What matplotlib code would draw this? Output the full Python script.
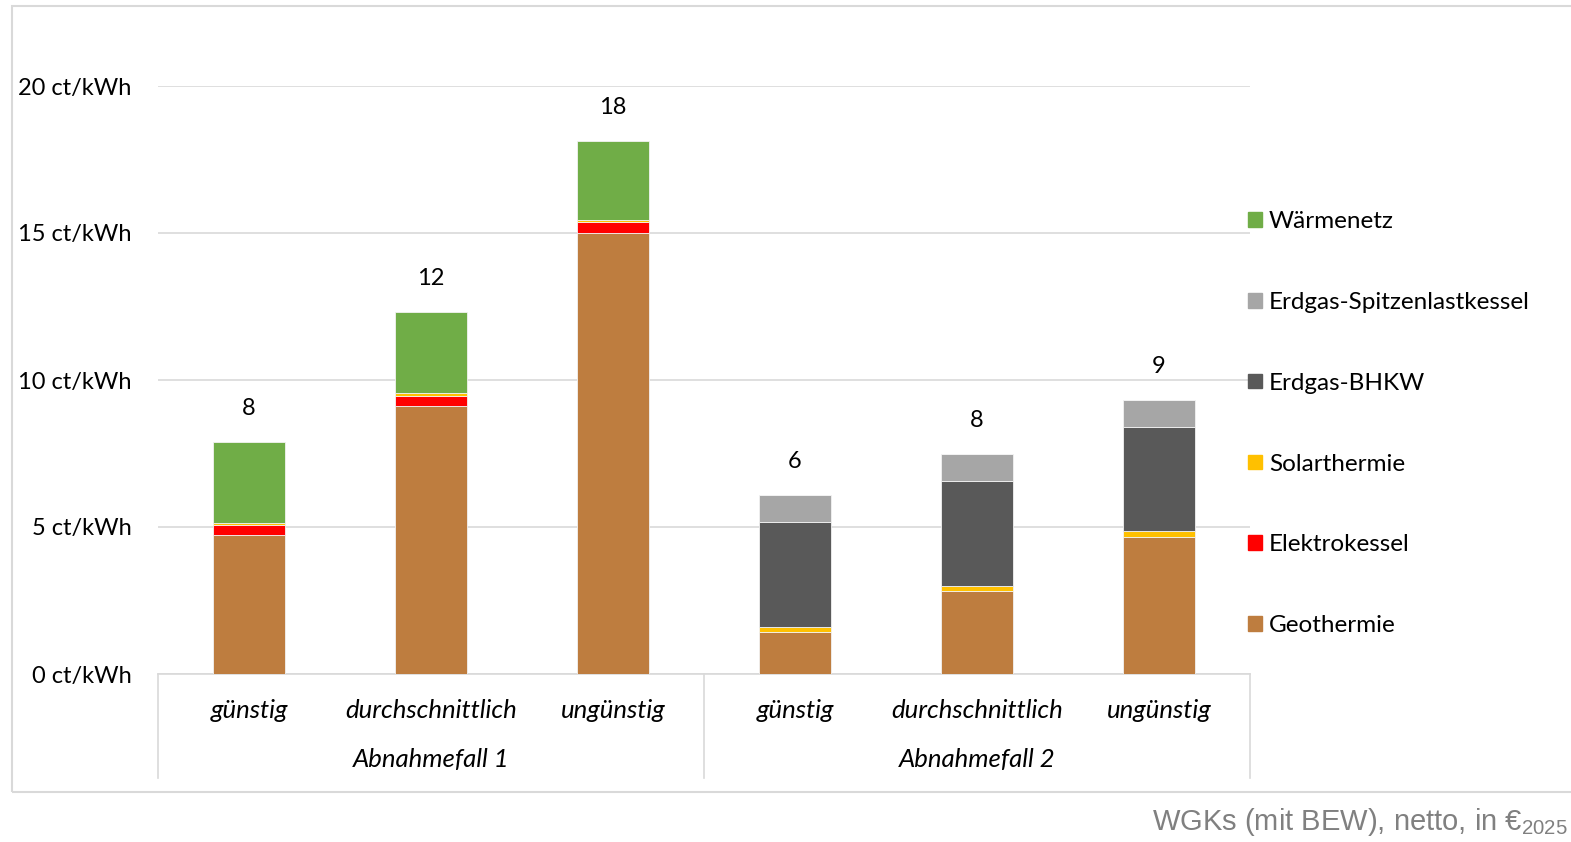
import matplotlib
matplotlib.use("Agg")
import matplotlib.pyplot as plt
from matplotlib.patches import Rectangle
from matplotlib.lines import Line2D
import numpy as np

plt.rcParams["font.family"] = ["Lato", "DejaVu Sans"]

# --- data (ct/kWh) ---
scenarios = ["günstig", "durchschnittlich", "ungünstig",
             "günstig", "durchschnittlich", "ungünstig"]
groups = ["Abnahmefall 1", "Abnahmefall 2"]

geothermie = [4.73, 9.12, 15.00, 1.44, 2.83, 4.67]
elektrokessel = [0.34, 0.35, 0.37, 0.0, 0.0, 0.0]
solarthermie = [0.08, 0.08, 0.07, 0.17, 0.18, 0.19]
bhkw = [0.0, 0.0, 0.0, 3.56, 3.55, 3.54]
spitzenlast = [0.0, 0.0, 0.0, 0.92, 0.94, 0.92]
waermenetz = [2.74, 2.76, 2.69, 0.0, 0.0, 0.0]
total_labels = [8, 12, 18, 6, 8, 9]

yticks = [0, 5, 10, 15, 20]

series = [
    ("Geothermie", geothermie, "#BE7D3F"),
    ("Elektrokessel", elektrokessel, "#FF0000"),
    ("Solarthermie", solarthermie, "#FFC000"),
    ("Erdgas-BHKW", bhkw, "#595959"),
    ("Erdgas-Spitzenlastkessel", spitzenlast, "#A6A6A6"),
    ("Wärmenetz", waermenetz, "#70AD47"),
]

W, H = 1571, 842
fig = plt.figure(figsize=(W / 100, H / 100), dpi=100)

# outer chart frame (light gray, open to the right)
fig.add_artist(Rectangle((12 / W, 1 - 792 / H), 1.2, (792 - 6) / H,
                         transform=fig.transFigure, fill=False,
                         edgecolor="#D9D9D9", linewidth=1.5))

ax = fig.add_axes([158 / W, 1 - 674 / H, (1250 - 158) / W, (674 - 86) / H])

x = np.arange(len(scenarios))
bottom = np.zeros(len(scenarios))
handles = []
for name, vals, col in series:
    vals = np.array(vals)
    ax.bar(x, vals, width=0.4, bottom=bottom, color=col,
           edgecolor="#F2F2F2", linewidth=0.6, zorder=3)
    bottom += vals
    handles.append((name, col))

for xi, top, lab in zip(x, bottom, total_labels):
    ax.annotate(str(lab), (xi, top), xytext=(0, 24), textcoords="offset points",
                ha="center", va="center", fontsize=17, color="black")

ax.set_xlim(-0.5, len(scenarios) - 0.5)
ax.set_ylim(0, 20)
ax.set_yticks(yticks)
ax.set_yticklabels([f"{v} ct/kWh" for v in yticks])
ax.tick_params(axis="y", length=0, pad=19, labelsize=17)
ax.set_xticks([])
ax.grid(axis="y", color="#D9D9D9", linewidth=1.2, zorder=0)
for s in ["top", "right", "left"]:
    ax.spines[s].set_visible(False)
ax.spines["bottom"].set_color("#D9D9D9")
ax.spines["bottom"].set_linewidth(1.2)

# category labels and group separators below the axis
trans = ax.get_xaxis_transform()
for xi, name in zip(x, scenarios):
    ax.text(xi, -37 / 588, name, transform=trans, ha="center",
            va="center", fontsize=18.5, style="italic")
for gi, g in enumerate(groups):
    ax.text(gi * 3 + 1, -85 / 588, g, transform=trans, ha="center",
            va="center", fontsize=18.5, style="italic")
for xs in [-0.5, 2.5, 5.5]:
    ax.add_line(Line2D([xs, xs], [0, -104 / 588], transform=trans,
                       color="#D9D9D9", linewidth=1.2, clip_on=False))

# legend, top entry first
leg_handles = [Rectangle((0, 0), 1, 1, color=c) for _, c in reversed(handles)]
leg_labels = [n for n, _ in reversed(handles)]
fig.legend(leg_handles, leg_labels, loc="upper left",
           bbox_to_anchor=(1236 / W, 1 - 199 / H), frameon=False,
           fontsize=17.5, handlelength=0.55, handleheight=0.55,
           handletextpad=0.3, labelspacing=2.46, borderpad=0)

fig.text(1568 / W, 1 - 822 / H,
         r"WGKs (mit BEW), netto, in €$_{\mathregular{2025}}$",
         ha="right", va="center", fontsize=21, color="#808080",
         family="Liberation Sans")

fig.savefig("out.png", dpi=100)
